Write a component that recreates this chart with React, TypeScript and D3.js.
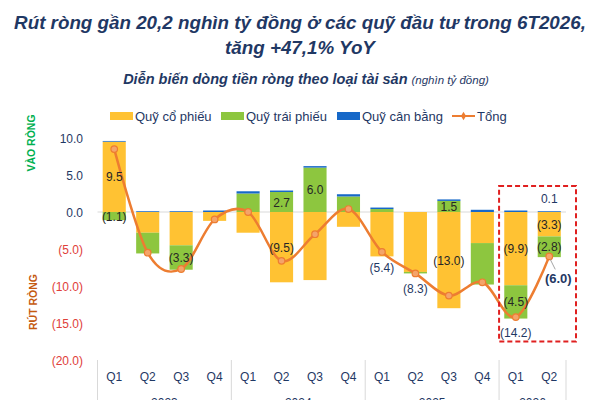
import React from "react";
import * as d3 from "d3";

const quarters = ["Q1", "Q2", "Q3", "Q4", "Q1", "Q2", "Q3", "Q4", "Q1", "Q2", "Q3", "Q4", "Q1", "Q2"];
const years = ["2023", "2023", "2023", "2023", "2024", "2024", "2024", "2024", "2025", "2025", "2025", "2025", "2026", "2026"];
const equity = [9.5, -2.8, -4.5, -1.2, -2.8, -9.5, -9.2, -2.0, -6.0, -8.1, -13.0, -4.2, -9.9, -3.3];
const bond = [-1.1, -2.8, -3.3, 0, 2.5, 2.7, 6.0, 2.1, 0.4, -0.2, 1.5, -5.6, -4.5, -2.8];
const balanced = [0.1, 0.1, 0.1, 0.2, 0.3, 0.2, 0.2, 0.3, 0.2, 0.0, 0.2, 0.3, 0.2, 0.1];
const total = [8.5, -5.5, -7.7, -1.0, 0.0, -6.6, -3.0, 0.4, -5.4, -8.3, -11.3, -9.5, -14.2, -6.0];
const yTicks = [10, 5, 0, -5, -10, -15, -20];
const seriesNames = ["Quỹ cổ phiếu", "Quỹ trái phiếu", "Quỹ cân bằng"];
const totalName = "Tổng";

// which segments carry a value label
const segLabels = [
  { i: 0, k: "equity" }, { i: 0, k: "bond" }, { i: 2, k: "bond" },
  { i: 5, k: "bond" }, { i: 5, k: "equity" }, { i: 6, k: "bond" },
  { i: 10, k: "bond" }, { i: 10, k: "equity" },
  { i: 12, k: "equity" }, { i: 12, k: "bond" },
  { i: 13, k: "equity" }, { i: 13, k: "bond" },
];
const totalLabels = [8, 9, 12];

const keys = ["equity", "bond", "balanced"];
const colors: Record<string, string> = { equity: "#FFC233", bond: "#8DC63F", balanced: "#1668C8" };
const NAVY = "#1F3864";
const ORANGE = "#ED7D31";

const fmt = (v: number) => (v < 0 ? `(${Math.abs(v).toFixed(1)})` : v.toFixed(1));

export default function App() {
  const ids = quarters.map((q, i) => `${q}-${years[i]}`);
  const rows = ids.map((id, i) => ({ id, equity: equity[i], bond: bond[i], balanced: balanced[i] }));

  const x = d3.scaleBand().domain(ids).range([97.5, 566]).paddingInner(0.31).paddingOuter(0.155);
  const step = x.step();
  const left = 97.5;
  const y = d3.scaleLinear().domain([-20, 10]).range([360, 138]);
  const cx = (i: number) => (x(ids[i]) as number) + x.bandwidth() / 2;

  const stack = d3.stack<any>().keys(keys).offset(d3.stackOffsetDiverging);
  const layers = stack(rows);
  const seg = (k: string, i: number) => layers.find((l) => l.key === k)![i];

  const line = d3.line<number>().x((_, i) => cx(i)).y((d) => y(d)).curve(d3.curveCardinal.tension(0));

  const groups = d3.groups(years.map((yr, i) => ({ yr, i })), (d) => d.yr);

  const font = "Liberation Sans, Arial, sans-serif";

  const legendItems = [
    { x: 110, label: seriesNames[0], color: colors.equity },
    { x: 221, label: seriesNames[1], color: colors.bond },
    { x: 337, label: seriesNames[2], color: colors.balanced },
  ];

  const boxL = left + 12 * step;
  const boxR = left + 14 * step + 10;

  return (
    <svg width={600} height={400} style={{ position: "absolute", left: 0, top: 0, background: "#fff" }} fontFamily={font}>
      {/* titles */}
      <text x={300} y={29} textAnchor="middle" fontSize={18.8} fontWeight="bold" fontStyle="italic" fill={NAVY}>
        Rút ròng gần 20,2 nghìn tỷ đồng ở các quỹ đầu tư trong 6T2026,
      </text>
      <text x={300} y={54} textAnchor="middle" fontSize={18.8} fontWeight="bold" fontStyle="italic" fill={NAVY}>
        tăng +47,1% YoY
      </text>
      <text x={306} y={84} textAnchor="middle" fill={NAVY} fontStyle="italic">
        <tspan fontSize={14.5} fontWeight="bold">Diễn biến dòng tiền ròng theo loại tài sản</tspan>
        <tspan fontSize={11.5} dx={4}>(nghìn tỷ đồng)</tspan>
      </text>

      {/* legend */}
      {legendItems.map((d) => (
        <g key={d.label}>
          <rect x={d.x} y={112} width={23} height={8} fill={d.color} />
          <text x={d.x + 25} y={120.5} fontSize={13} fill={NAVY}>{d.label}</text>
        </g>
      ))}
      <line x1={452} x2={475} y1={116} y2={116} stroke={ORANGE} strokeWidth={2} />
      <path d={d3.symbol(d3.symbolDiamond, 22)()!} transform="translate(463.5,116)" fill={ORANGE} />
      <text x={477} y={120.5} fontSize={13} fill={NAVY}>{totalName}</text>

      {/* side labels */}
      <text transform="translate(35,143) rotate(-90)" textAnchor="middle" fontSize={10.5} fontWeight="bold" fill="#00B050">VÀO RÒNG</text>
      <text transform="translate(37,302) rotate(-90)" textAnchor="middle" fontSize={10.5} fontWeight="bold" fill="#C55A11">RÚT RÒNG</text>

      {/* y ticks */}
      {yTicks.map((t) => (
        <text key={t} x={83} y={y(t) + 4.5} textAnchor="end" fontSize={12} fill={t < 0 ? "#E0403A" : NAVY}>{fmt(t)}</text>
      ))}

      {/* zero line */}
      <line x1={left} x2={566} y1={y(0)} y2={y(0)} stroke="#D9D9D9" strokeWidth={1} />

      {/* bars */}
      {layers.map((layer) => (
        <g key={layer.key} fill={colors[layer.key]}>
          {layer.map((d, i) => (
            <rect key={i} x={x(ids[i])} width={x.bandwidth()} y={y(Math.max(d[0], d[1]))}
              height={Math.abs(y(d[0]) - y(d[1]))} />
          ))}
        </g>
      ))}

      {/* total line */}
      <path d={line(total)!} fill="none" stroke={ORANGE} strokeWidth={2.5} />
      {total.map((v, i) => (
        <circle key={i} cx={cx(i)} cy={y(v)} r={3.3} fill="#F4A46A" stroke={ORANGE} strokeWidth={1.2} />
      ))}

      {/* segment labels */}
      {segLabels.map((s) => {
        const d = seg(s.k, s.i);
        const v = (rows[s.i] as any)[s.k];
        return (
          <text key={`${s.i}-${s.k}`} x={cx(s.i)} y={y((d[0] + d[1]) / 2) + 4.5} textAnchor="middle" fontSize={12} fill="#262626">{fmt(v)}</text>
        );
      })}
      <text x={cx(13)} y={y(balanced[13]) - 8} textAnchor="middle" fontSize={12} fill={NAVY}>{fmt(balanced[13])}</text>

      {/* total labels */}
      {totalLabels.map((i) => (
        <text key={i} x={cx(i)} y={y(total[i]) + 20} textAnchor="middle" fontSize={12} fill={NAVY}>{fmt(total[i])}</text>
      ))}
      <line x1={cx(13) + 1} y1={y(total[13]) + 3} x2={cx(13) + 6} y2={y(total[13]) + 13} stroke="#A6A6A6" strokeWidth={1} />
      <text x={cx(13) + 9} y={y(total[13]) + 27} textAnchor="middle" fontSize={13} fontWeight="bold" fill={NAVY}>{fmt(total[13])}</text>

      {/* highlight box */}
      <rect x={boxL} y={y(3.5)} width={boxR - boxL} height={y(-17.5) - y(3.5)} fill="none" stroke="#E02020" strokeWidth={2} strokeDasharray="5,3" />

      {/* x axis */}
      {ids.map((id, i) => (
        <text key={id} x={cx(i)} y={381} textAnchor="middle" fontSize={12} fill={NAVY}>{quarters[i]}</text>
      ))}
      {[0, 4, 8, 12, 14].map((b) => (
        <line key={b} x1={left + b * step} x2={left + b * step} y1={360} y2={400} stroke="#D9D9D9" strokeWidth={1} />
      ))}
      {groups.map(([yr, items]) => {
        const a = items[0].i, b = items[items.length - 1].i + 1;
        return (
          <text key={yr} x={left + ((a + b) / 2) * step} y={407} textAnchor="middle" fontSize={12} fill={NAVY}>{yr}</text>
        );
      })}
    </svg>
  );
}
